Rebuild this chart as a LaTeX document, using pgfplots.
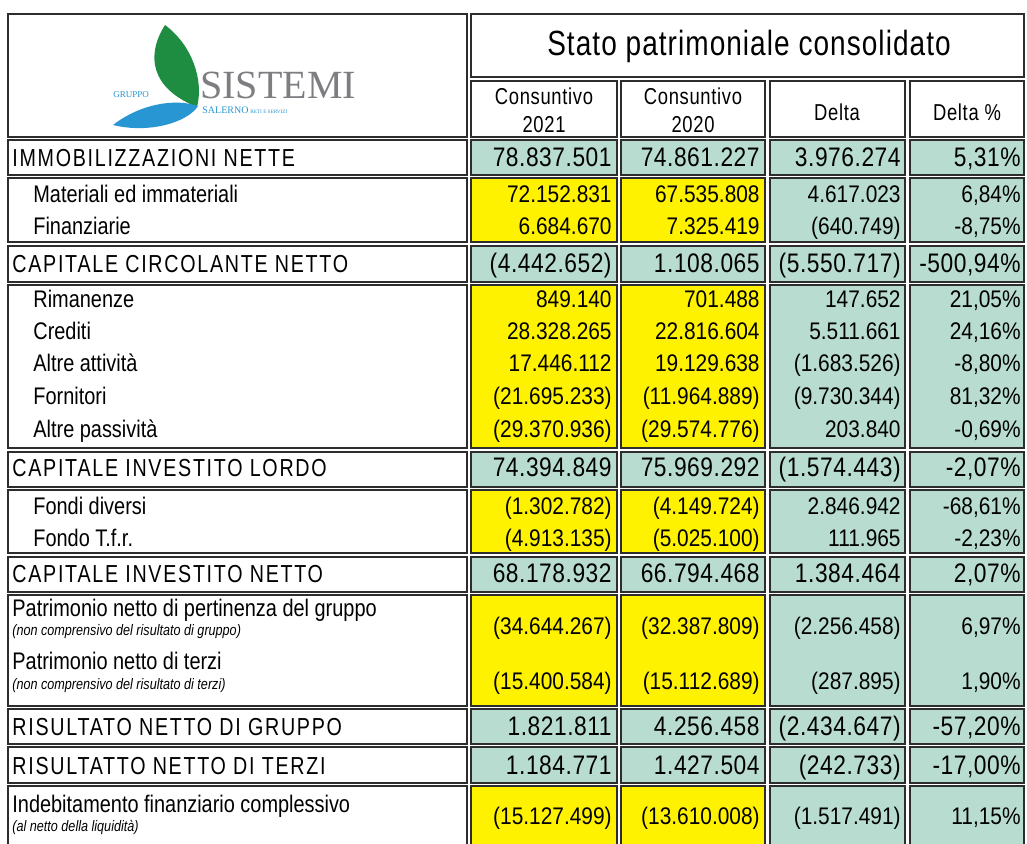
\documentclass[border=0pt]{standalone}
\usepackage{pgfplots}
\pgfplotsset{compat=1.18}
\usepackage{fontspec}
\setmainfont{Liberation Sans}[FakeStretch=0.83]
\newfontfamily\numf{Liberation Sans}[FakeStretch=0.87]
\newfontfamily\bigf{Liberation Sans}[FakeStretch=0.85,LetterSpace=2]
\newfontfamily\capsf{Liberation Sans}[FakeStretch=0.8,LetterSpace=7]
\newfontfamily\headf{Liberation Sans}[FakeStretch=0.8,LetterSpace=3]
\newfontfamily\logof{Liberation Serif}

\definecolor{yel}{RGB}{255,242,0}
\definecolor{aqua}{RGB}{184,221,208}
\definecolor{bord}{RGB}{45,45,45}
\definecolor{leaf}{RGB}{30,140,65}
\definecolor{wave}{RGB}{40,150,210}
\definecolor{logogray}{RGB}{125,125,130}

\newcommand{\sm}{\fontsize{12}{14}\selectfont}
\newcommand{\sn}{\numf\fontsize{12}{14}\selectfont}
\newcommand{\bg}{\bigf\fontsize{13.4}{15}\selectfont}
\newcommand{\cp}{\capsf\fontsize{12.3}{14}\selectfont}
\newcommand{\nt}{\itshape\fontsize{7.6}{9}\selectfont}

% one bordered cell: x1 y1 x2 y2 fill
\newcommand{\cell}[5]{\addplot[fill=#5, draw=bord, line width=1pt, mark=none]
  coordinates {(#1,#2)(#3,#2)(#3,#4)(#1,#4)} -- cycle;}
% one row band: top bottom fill of the two Consuntivo columns
\newcommand{\band}[3]{\cell{8}{#1}{467}{#2}{white}
  \cell{471}{#1}{617}{#2}{#3}\cell{621}{#1}{765}{#2}{#3}
  \cell{770}{#1}{905}{#2}{aqua}\cell{910}{#1}{1024}{#2}{aqua}}
% the four values of a line: baseline, values, font
\newcommand{\nums}[6]{%
  \node[anchor=base east, inner sep=0, font=#6] at (axis cs:612,#1) {#2};
  \node[anchor=base east, inner sep=0, font=#6] at (axis cs:760,#1) {#3};
  \node[anchor=base east, inner sep=0, font=#6] at (axis cs:901,#1) {#4};
  \node[anchor=base east, inner sep=0, font=#6] at (axis cs:1021,#1) {#5};}
\newcommand{\lab}[4]{\node[anchor=base west, inner sep=0, font=#4] at (axis cs:#1,#2) {#3};}

\begin{document}
\begin{tikzpicture}
\begin{axis}[hide axis, scale only axis, width=513.5pt, height=421.5pt,
  xmin=0, xmax=1027, ymin=0, ymax=843, y dir=reverse]

% header
\cell{8}{14}{467}{137}{white}
\cell{471}{14}{1024}{77}{white}
\cell{471}{81}{617}{137}{white}
\cell{621}{81}{765}{137}{white}
\cell{770}{81}{905}{137}{white}
\cell{910}{81}{1024}{137}{white}

\node[font=\headf\fontsize{17.5}{20}\selectfont] at (axis cs:749,46) {Stato patrimoniale consolidato};
\node[align=center, font=\headf\fontsize{11.5}{14}\selectfont] at (axis cs:544,110) {Consuntivo\\2021};
\node[align=center, font=\headf\fontsize{11.5}{14}\selectfont] at (axis cs:693,110) {Consuntivo\\2020};
\node[font=\headf\fontsize{11.5}{14}\selectfont] at (axis cs:837,112) {Delta};
\node[font=\headf\fontsize{11.5}{14}\selectfont] at (axis cs:967,112) {Delta \%};

% logo
\fill[leaf] (axis cs:165,25) .. controls (axis cs:146,55) and (axis cs:150,88)
  .. (axis cs:197,107) .. controls (axis cs:204,80) and (axis cs:192,45) .. cycle;
\fill[wave] (axis cs:113,125) .. controls (axis cs:140,104) and (axis cs:175,98)
  .. (axis cs:198,106) .. controls (axis cs:188,122) and (axis cs:150,134) .. cycle;
\node[anchor=base west, inner sep=0, text=logogray, font=\logof\fontsize{20}{20}\selectfont] at (axis cs:200,98) {SISTEMI};
\node[anchor=base west, inner sep=0, text=wave, font=\logof\fontsize{4.5}{5}\selectfont] at (axis cs:113,97) {GRUPPO};
\node[anchor=base west, inner sep=0, text=wave, font=\logof\fontsize{5}{5}\selectfont] at (axis cs:202,113) {SALERNO};
\node[anchor=base west, inner sep=0, text=wave, font=\logof\fontsize{2.6}{3}\selectfont] at (axis cs:250,113) {RETI E SERVIZI};

% bands
\band{140}{175}{aqua}
\band{178}{242}{yel}
\band{246}{282}{aqua}
\band{285}{448}{yel}
\band{452}{487}{aqua}
\band{490}{553}{yel}
\band{557}{592}{aqua}
\band{595}{706}{yel}
\band{709}{744}{aqua}
\band{747}{783}{aqua}
\band{786}{850}{yel}

% labels
\lab{12}{166}{IMMOBILIZZAZIONI NETTE}{\cp}
\lab{33}{202}{Materiali ed immateriali}{\sm}
\lab{33}{234}{Finanziarie}{\sm}
\lab{12}{272}{CAPITALE CIRCOLANTE NETTO}{\cp}
\lab{33}{307}{Rimanenze}{\sm}
\lab{33}{339}{Crediti}{\sm}
\lab{33}{371}{Altre attività}{\sm}
\lab{33}{404}{Fornitori}{\sm}
\lab{33}{437}{Altre passività}{\sm}
\lab{12}{476}{CAPITALE INVESTITO LORDO}{\cp}
\lab{33}{514}{Fondi diversi}{\sm}
\lab{33}{546}{Fondo T.f.r.}{\sm}
\lab{12}{582}{CAPITALE INVESTITO NETTO}{\cp}
\lab{12}{616}{Patrimonio netto di pertinenza del gruppo}{\sm}
\lab{12}{635}{(non comprensivo del risultato di gruppo)}{\nt}
\lab{12}{669}{Patrimonio netto di terzi}{\sm}
\lab{12}{689}{(non comprensivo del risultato di terzi)}{\nt}
\lab{12}{735}{RISULTATO NETTO DI GRUPPO}{\cp}
\lab{12}{774}{RISULTATTO NETTO DI TERZI}{\cp}
\lab{12}{812}{Indebitamento finanziario complessivo}{\sm}
\lab{12}{831}{(al netto della liquidità)}{\nt}

% values
\nums{166}{78.837.501}{74.861.227}{3.976.274}{5,31\%}{\bg}
\nums{202}{72.152.831}{67.535.808}{4.617.023}{6,84\%}{\sn}
\nums{234}{6.684.670}{7.325.419}{(640.749)}{-8,75\%}{\sn}
\nums{272}{(4.442.652)}{1.108.065}{(5.550.717)}{-500,94\%}{\bg}
\nums{307}{849.140}{701.488}{147.652}{21,05\%}{\sn}
\nums{339}{28.328.265}{22.816.604}{5.511.661}{24,16\%}{\sn}
\nums{371}{17.446.112}{19.129.638}{(1.683.526)}{-8,80\%}{\sn}
\nums{404}{(21.695.233)}{(11.964.889)}{(9.730.344)}{81,32\%}{\sn}
\nums{437}{(29.370.936)}{(29.574.776)}{203.840}{-0,69\%}{\sn}
\nums{476}{74.394.849}{75.969.292}{(1.574.443)}{-2,07\%}{\bg}
\nums{514}{(1.302.782)}{(4.149.724)}{2.846.942}{-68,61\%}{\sn}
\nums{546}{(4.913.135)}{(5.025.100)}{111.965}{-2,23\%}{\sn}
\nums{582}{68.178.932}{66.794.468}{1.384.464}{2,07\%}{\bg}
\nums{634}{(34.644.267)}{(32.387.809)}{(2.256.458)}{6,97\%}{\sn}
\nums{689}{(15.400.584)}{(15.112.689)}{(287.895)}{1,90\%}{\sn}
\nums{735}{1.821.811}{4.256.458}{(2.434.647)}{-57,20\%}{\bg}
\nums{774}{1.184.771}{1.427.504}{(242.733)}{-17,00\%}{\bg}
\nums{824}{(15.127.499)}{(13.610.008)}{(1.517.491)}{11,15\%}{\sn}

\end{axis}
\pgfresetboundingbox
\useasboundingbox (current axis.south west) rectangle (current axis.north east);
\end{tikzpicture}
\end{document}
